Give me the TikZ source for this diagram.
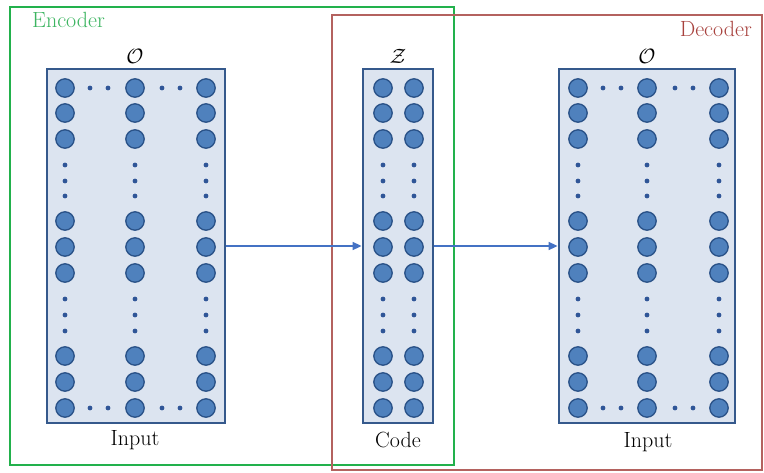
\documentclass[tikz,border=0pt]{standalone}
\usetikzlibrary{arrows.meta}
\definecolor{boxfill}{HTML}{DCE4F0}
\definecolor{boxline}{HTML}{35598C}
\definecolor{neuron}{HTML}{4F81BD}
\definecolor{neuronline}{HTML}{2A5288}
\definecolor{dotc}{HTML}{2F5597}
\definecolor{arrowc}{HTML}{4472C4}
\definecolor{encgreen}{HTML}{22B14C}
\definecolor{dectext}{HTML}{A8423E}
\definecolor{decline}{HTML}{B4625F}
\definecolor{enctext}{HTML}{3DB561}
\tikzset{
  layerbox/.style={draw=boxline, fill=boxfill, line width=2.8pt, minimum height=354pt, inner sep=0pt},
  neu/.style={fill=neuron, draw=neuronline, line width=1.3pt},
  conn/.style={draw=arrowc, line width=1.6pt, -{Triangle[length=9pt,width=8pt]}},
  lbl/.style={font=\fontsize{22}{24}\selectfont, inner sep=0pt},
  scr/.style={font=\fontsize{21}{24}\selectfont, inner sep=0pt}
}
\newcommand{\bigrows}{88,113,139,221,247,273,356,382,408}
\newcommand{\dotrows}{165,181,196,299,315,331}
\begin{document}
\begin{tikzpicture}[x=1pt,y=-1pt]
\useasboundingbox (0,0) rectangle (764,472);
\fill[white] (0,0) rectangle (764,472);
% group frames
\node[draw=encgreen, line width=2pt, minimum width=444pt, minimum height=458pt, inner sep=0pt] (encframe) at (232,236) {};
\node[draw=decline, line width=2pt, minimum width=430pt, minimum height=455pt, inner sep=0pt] (decframe) at (547,242.5) {};
\node[lbl, text=enctext, anchor=base west] (enclbl) at (32,27) {Encoder};
\node[lbl, text=dectext, anchor=base east] (declbl) at (752,36) {Decoder};
% layer boxes
\node[layerbox, minimum width=178pt] (enc) at (136,246) {};
\node[layerbox, minimum width=70pt] (code) at (398,246) {};
\node[layerbox, minimum width=176pt] (dec) at (647,246) {};
% neurons
\foreach \x in {65,135,206,383,414,578,647,719}{
  \foreach \y in \bigrows { \draw[neu] (\x,\y) circle (9.2pt); }
  \foreach \y in \dotrows { \fill[dotc] (\x,\y) circle (2.4pt); }
}
\foreach \x in {90,108,162,180,603,621,675,693}{
  \foreach \y in {88,408} { \fill[dotc] (\x,\y) circle (2.4pt); }
}
% connectors
\draw[conn] (enc.east) -- (code.west);
\draw[conn] (code.east) -- (dec.west);
% titles
\node[scr] (encsym) at (135,56) {$\mathcal{O}$};
\node[scr] (codesym) at (398,56) {$\mathcal{Z}$};
\node[scr] (decsym) at (647,56) {$\mathcal{O}$};
\node[lbl] (enctxt) at (135,440) {Input};
\node[lbl] (codetxt) at (398,440) {Code};
\node[lbl] (dectxt) at (648,442) {Input};
\end{tikzpicture}
\end{document}
